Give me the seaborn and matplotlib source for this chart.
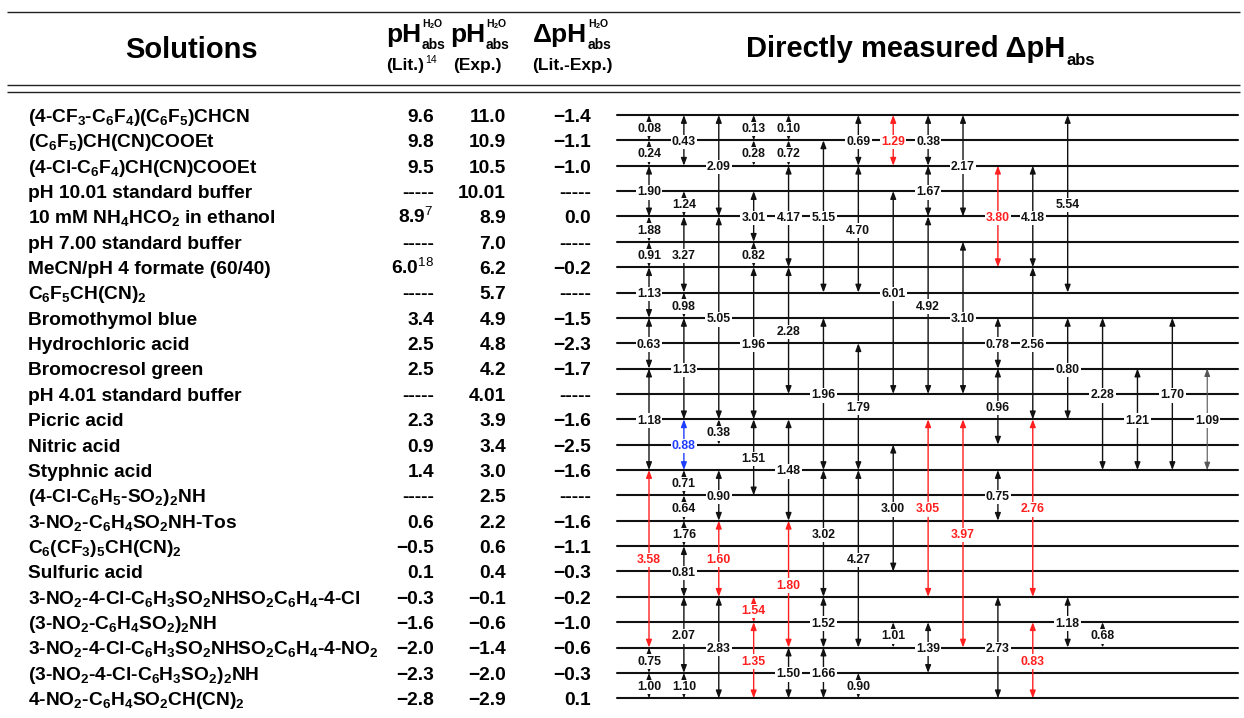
import re
import numpy as np
import pandas as pd
import matplotlib
matplotlib.use("Agg")
import matplotlib.pyplot as plt
import seaborn as sns
from matplotlib.transforms import blended_transform_factory, offset_copy

sns.set_theme(style="white")
plt.rcParams["font.family"] = ["Liberation Sans", "DejaVu Sans"]
plt.rcParams["text.color"] = "black"
plt.rcParams["mathtext.fontset"] = "custom"
plt.rcParams["mathtext.rm"] = "Liberation Sans"
plt.rcParams["mathtext.bf"] = "Liberation Sans:bold"
plt.rcParams["mathtext.it"] = "Liberation Sans:italic"

# ---------------- data ----------------
solutions = [
    "(4-CF_3-C_6F_4)(C_6F_5)CHCN",
    "(C_6F_5)CH(CN)COOEt",
    "(4-Cl-C_6F_4)CH(CN)COOEt",
    "pH 10.01 standard buffer",
    "10 mM NH_4HCO_2 in ethanol",
    "pH 7.00 standard buffer",
    "MeCN/pH 4 formate (60/40)",
    "C_6F_5CH(CN)_2",
    "Bromothymol blue",
    "Hydrochloric acid",
    "Bromocresol green",
    "pH 4.01 standard buffer",
    "Picric acid",
    "Nitric acid",
    "Styphnic acid",
    "(4-Cl-C_6H_5-SO_2)_2NH",
    "3-NO_2-C_6H_4SO_2NH-Tos",
    "C_6(CF_3)_5CH(CN)_2",
    "Sulfuric acid",
    "3-NO_2-4-Cl-C_6H_3SO_2NHSO_2C_6H_4-4-Cl",
    "(3-NO_2-C_6H_4SO_2)_2NH",
    "3-NO_2-4-Cl-C_6H_3SO_2NHSO_2C_6H_4-4-NO_2",
    "(3-NO_2-4-Cl-C_6H_3SO_2)_2NH",
    "4-NO_2-C_6H_4SO_2CH(CN)_2",
]
lit_values = ["9.6", "9.8", "9.5", "-----", "8.9", "-----", "6.0", "-----", "3.4", "2.5",
              "2.5", "-----", "2.3", "0.9", "1.4", "-----", "0.6", "\u22120.5", "0.1",
              "\u22120.3", "\u22121.6", "\u22122.0", "\u22122.3", "\u22122.8"]
lit_refs = ["", "", "", "", "7", "", "18", "", "", "", "", "", "", "", "", "", "", "", "",
            "", "", "", "", ""]
exp_values = ["11.0", "10.9", "10.5", "10.01", "8.9", "7.0", "6.2", "5.7", "4.9", "4.8",
              "4.2", "4.01", "3.9", "3.4", "3.0", "2.5", "2.2", "0.6", "0.4",
              "\u22120.1", "\u22120.6", "\u22121.4", "\u22122.0", "\u22122.9"]
delta_values = ["\u22121.4", "\u22121.1", "\u22121.0", "-----", "0.0", "-----", "\u22120.2",
                "-----", "\u22121.5", "\u22122.3", "\u22121.7", "-----", "\u22121.6",
                "\u22122.5", "\u22121.6", "-----", "\u22121.6", "\u22121.1", "\u22120.3",
                "\u22120.2", "\u22121.0", "\u22120.6", "\u22120.3", "0.1"]

# ladder of directly measured differences: column, upper row, lower row, value, highlight
arrow_col = [0]*11 + [1]*12 + [2]*6 + [3]*8 + [4]*7 + [5]*5 + [6]*5 + [7]*4 + [8]*5 \
    + [9]*3 + [10]*5 + [11]*4 + [12]*3 + [13]*2 + [14] + [15] + [16]
arrow_top = [0, 1, 2, 4, 5, 6, 8, 10, 14, 21, 22,
             0, 3, 4, 7, 8, 12, 14, 15, 16, 17, 19, 22,
             0, 4, 12, 14, 16, 19,
             0, 1, 3, 5, 6, 12, 19, 20,
             0, 1, 2, 6, 12, 16, 21,
             1, 8, 14, 19, 21,
             0, 2, 9, 14, 22,
             0, 3, 13, 20,
             0, 2, 4, 12, 20,
             0, 5, 12,
             2, 8, 10, 14, 19,
             2, 6, 12, 20,
             0, 8, 19,
             8, 20,
             10, 8, 10]
arrow_bottom = [1, 2, 4, 5, 6, 8, 10, 14, 21, 22, 23,
                2, 4, 7, 8, 12, 14, 15, 16, 17, 19, 22, 23,
                4, 12, 13, 16, 19, 23,
                1, 2, 5, 6, 12, 15, 20, 23,
                1, 2, 6, 11, 16, 21, 23,
                7, 14, 19, 21, 23,
                2, 7, 14, 21, 23,
                2, 11, 18, 21,
                2, 4, 11, 19, 22,
                4, 11, 21,
                6, 10, 13, 16, 23,
                6, 12, 19, 23,
                7, 12, 21,
                14, 21,
                14, 14, 14]
arrow_value = ["0.08", "0.24", "1.90", "1.88", "0.91", "1.13", "0.63", "1.18", "3.58", "0.75", "1.00",
               "0.43", "1.24", "3.27", "0.98", "1.13", "0.88", "0.71", "0.64", "1.76", "0.81", "2.07", "1.10",
               "2.09", "5.05", "0.38", "0.90", "1.60", "2.83",
               "0.13", "0.28", "3.01", "0.82", "1.96", "1.51", "1.54", "1.35",
               "0.10", "0.72", "4.17", "2.28", "1.48", "1.80", "1.50",
               "5.15", "1.96", "3.02", "1.52", "1.66",
               "0.69", "4.70", "1.79", "4.27", "0.90",
               "1.29", "6.01", "3.00", "1.01",
               "0.38", "1.67", "4.92", "3.05", "1.39",
               "2.17", "3.10", "3.97",
               "3.80", "0.78", "0.96", "0.75", "2.73",
               "4.18", "2.56", "2.76", "0.83",
               "5.54", "0.80", "1.18",
               "2.28", "0.68",
               "1.21", "1.70", "1.09"]
arrow_kind = ["k"]*8 + ["r"] + ["k"]*2 \
    + ["k"]*5 + ["b"] + ["k"]*6 \
    + ["k"]*4 + ["r"] + ["k"] \
    + ["k"]*6 + ["r", "r"] \
    + ["k"]*5 + ["r"] + ["k"] \
    + ["k"]*5 \
    + ["k"]*5 \
    + ["r"] + ["k"]*3 \
    + ["k"]*3 + ["r"] + ["k"] \
    + ["k", "k", "r"] \
    + ["r"] + ["k"]*4 \
    + ["k", "k", "r", "r"] \
    + ["k"]*3 \
    + ["k"]*2 \
    + ["k", "k", "g"]

# ---------------- layout ----------------
W, H = 1244, 718
COL0, COLW = 649.0, 34.89      # pixel position of first ladder column and spacing
ROW0, ROWH = 115.0, 25.36      # pixel position of first row line and spacing
LINE_L, LINE_R = 617.0, 1238.0

fig = plt.figure(figsize=(W / 100, H / 100), dpi=100)
hdr = fig.add_axes([0, 0, 1, 1])
hdr.set_xlim(0, W)
hdr.set_ylim(H, 0)
hdr.axis("off")

ax = fig.add_axes([0, 0, 1, 1])
ax.patch.set_alpha(0)

n_rows = len(solutions)
rows = np.arange(n_rows)
xl = (LINE_L - COL0) / COLW
xr = (LINE_R - COL0) / COLW
rungs = pd.DataFrame({"row": np.repeat(rows, 2), "x": np.tile([xl, xr], n_rows)})
sns.lineplot(data=rungs, x="x", y="row", units="row", estimator=None, sort=False,
             color="#111111", linewidth=1.5, ax=ax, legend=False)
ax.set_xlim((0 - COL0) / COLW, (W - COL0) / COLW)
ax.set_ylim((H - ROW0) / ROWH, (0 - ROW0) / ROWH)
ax.axis("off")

colors = {"k": "#111111", "r": "#ff1f1f", "b": "#1f3dff", "g": "#555555"}
lab_fs = 8.8
lab_tr = offset_copy(ax.transData, fig=fig, x=0, y=-0.36 * lab_fs, units="points")
for c, t, b, v, k in zip(arrow_col, arrow_top, arrow_bottom, arrow_value, arrow_kind):
    col = colors[k]
    lw = 0.8 if k == "g" else 1.0
    ax.annotate("", xy=(c, b), xytext=(c, t),
                arrowprops=dict(arrowstyle="<|-|>,head_length=0.45,head_width=0.17",
                                color=col, lw=lw, shrinkA=0, shrinkB=0, mutation_scale=10),
                zorder=3)
    tc = "#111111" if k == "g" else col
    ax.text(c, (t + b) / 2, v, ha="center", va="baseline", fontsize=lab_fs,
            fontweight="bold", color=tc, transform=lab_tr, zorder=5,
            bbox=dict(boxstyle="square,pad=0.1", fc="white", ec="none"))

# ---------------- table ----------------
tab_fs = 13.8
tab_tr = offset_copy(blended_transform_factory(hdr.transData, ax.transData), fig=fig,
                     x=0, y=-0.358 * tab_fs, units="points")


def chem(s):
    return re.sub(r"_(\d)", lambda m: "$_\\mathbf{" + m.group(1) + "}$", s)


for i in rows:
    hdr.text(28, i, chem(solutions[i]), ha="left", va="baseline", fontsize=tab_fs,
             fontweight="bold", color="black", transform=tab_tr)
    lv = lit_values[i] + ("$^{\\mathrm{" + lit_refs[i] + "}}$" if lit_refs[i] else "")
    hdr.text(434, i, lv, ha="right", va="baseline", fontsize=tab_fs, fontweight="bold",
             transform=tab_tr)
    hdr.text(506, i, exp_values[i], ha="right", va="baseline", fontsize=tab_fs,
             fontweight="bold", transform=tab_tr)
    hdr.text(591, i, delta_values[i], ha="right", va="baseline", fontsize=tab_fs,
             fontweight="bold", transform=tab_tr)

# ---------------- header ----------------
hdr.hlines([12, 85, 92], 7, 1240, color="#222222", lw=1.0)
renderer = fig.canvas.get_renderer()


def right_px(t):
    return t.get_window_extent(renderer=renderer).x1


big = 21
hdr.text(192, 58, "Solutions", ha="center", va="baseline", fontsize=big, fontweight="bold")

t = hdr.text(746, 57, "Directly measured \u0394pH", ha="left", va="baseline",
             fontsize=big, fontweight="bold")
hdr.text(right_px(t) + 1, 65, "abs", ha="left", va="baseline", fontsize=12,
         fontweight="bold")


def ph_head(x, prefix):
    tt = hdr.text(x, 42, prefix + "pH", ha="left", va="baseline", fontsize=19,
                  fontweight="bold")
    xr_ = right_px(tt) + 1
    hdr.text(xr_, 27, "H$_\\mathbf{2}$O", ha="left", va="baseline", fontsize=7.5,
             fontweight="bold")
    hdr.text(xr_, 49, "abs", ha="left", va="baseline", fontsize=10, fontweight="bold")


ph_head(386, "")
ph_head(450, "")
ph_head(533, "\u0394")
sub_fs = 12.5
t = hdr.text(386, 70, "(Lit.)", ha="left", va="baseline", fontsize=sub_fs, fontweight="bold")
hdr.text(right_px(t) + 1, 63, "14", ha="left", va="baseline", fontsize=7.5)
hdr.text(477, 70, "(Exp.)", ha="center", va="baseline", fontsize=sub_fs, fontweight="bold")
hdr.text(572, 70, "(Lit.-Exp.)", ha="center", va="baseline", fontsize=sub_fs,
         fontweight="bold")

fig.savefig("out.png", dpi=100)
